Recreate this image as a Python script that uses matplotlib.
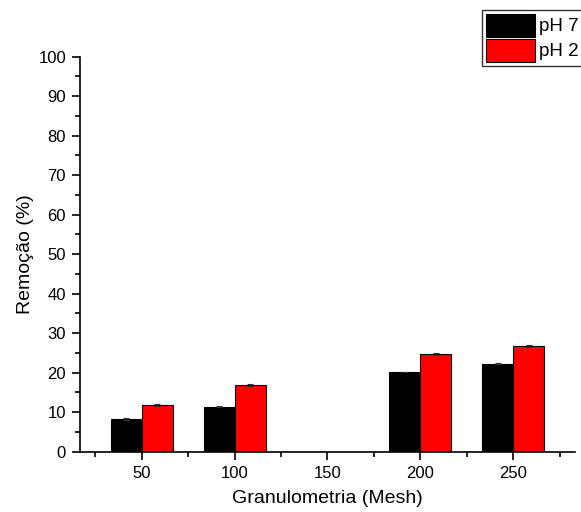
import matplotlib
matplotlib.use("Agg")
import matplotlib.pyplot as plt
import numpy as np
from matplotlib.ticker import MultipleLocator

plt.rcParams['font.family'] = ['Liberation Sans', 'DejaVu Sans']

mesh = [50, 100, 150, 200, 250]
ph7 = [8.3, 11.4, 0.0, 20.2, 22.3]
ph2 = [11.7, 16.8, 0.0, 24.8, 26.8]
ph7_err = [0.15, 0.15, 0.0, 0.1, 0.15]
ph2_err = [0.25, 0.25, 0.0, 0.2, 0.2]
labels = ['pH 7', 'pH 2']

fig = plt.figure(figsize=(5.81, 5.12), dpi=100)
ax = fig.add_axes([80/581, 1-451.7/512, (575-80)/581, (451.7-56.7)/512])

w = 16.7
x = np.array(mesh, dtype=float)
m7 = np.array(ph7) > 0
m2 = np.array(ph2) > 0
ax.bar(x[m7] - w/2, np.array(ph7)[m7], width=w, color='black', edgecolor='black', linewidth=0.8,
       yerr=np.array(ph7_err)[m7], error_kw=dict(ecolor='#333333', capsize=2.5, elinewidth=0.8, capthick=0.8), label=labels[0])
ax.bar(x[m2] + w/2, np.array(ph2)[m2], width=w, color='#ff0000', edgecolor='black', linewidth=0.8,
       yerr=np.array(ph2_err)[m2], error_kw=dict(ecolor='#333333', capsize=2.5, elinewidth=0.8, capthick=0.8), label=labels[1])

ax.set_xlim(16.7, 283.3)
ax.set_ylim(0, 100)
ax.set_xticks(mesh)
ax.set_xticks([25, 75, 125, 175, 225, 275], minor=True)
ax.yaxis.set_major_locator(MultipleLocator(10))
ax.yaxis.set_minor_locator(MultipleLocator(5))
for s in ['top', 'right']:
    ax.spines[s].set_visible(False)
for s in ['left', 'bottom']:
    ax.spines[s].set_linewidth(1.2)
ax.tick_params(which='major', direction='out', length=6, width=1.2, labelsize=12, pad=4)
ax.tick_params(which='minor', direction='out', length=3.5, width=1.2)

ax.set_xlabel('Granulometria (Mesh)', fontsize=14, labelpad=7)
ax.set_ylabel('Remoção (%)', fontsize=14, labelpad=3)

leg = ax.legend(loc='upper left', bbox_to_anchor=(482/581, 1-10/512), bbox_transform=fig.transFigure,
                fontsize=13.5, frameon=True, fancybox=False, shadow=False, borderpad=0.2,
                handlelength=2.65, handleheight=1.5, handletextpad=0.2, labelspacing=0.12, borderaxespad=0)
leg.get_frame().set_edgecolor('black')
leg.get_frame().set_linewidth(1.0)

fig.savefig('out.png', dpi=100)
